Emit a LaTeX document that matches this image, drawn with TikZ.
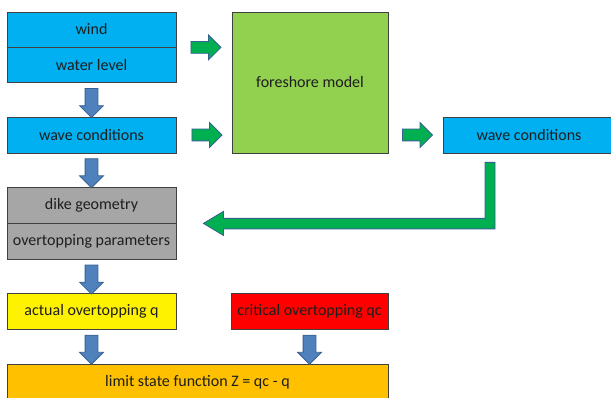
\documentclass[tikz,border=0pt]{standalone}
\usepackage{fontspec}
\setmainfont{Carlito}
\usetikzlibrary{positioning,calc,shapes.arrows}
\definecolor{boxblue}{RGB}{0,176,240}
\definecolor{boxgreen}{RGB}{146,208,80}
\definecolor{boxgray}{RGB}{166,166,166}
\definecolor{boxorange}{RGB}{255,192,0}
\definecolor{arrowblue}{RGB}{79,129,189}
\definecolor{arrowgreen}{RGB}{0,176,80}
\definecolor{arrowline}{RGB}{55,96,146}
\definecolor{boxline}{RGB}{64,64,64}
\definecolor{textcol}{RGB}{30,30,30}
\begin{document}
\begin{tikzpicture}
      [
        x = 1pt, y = -1pt,
        box/.style = {draw=boxline, line width=0.8pt, text=textcol, inner sep=0pt,
            minimum height=36pt, font=\fontsize{16}{19}\selectfont},
        bluearrow/.style = {single arrow, draw=arrowline, fill=arrowblue, line width=0.8pt,
            single arrow head extend=5.5pt, minimum height=29pt,
            inner xsep=0pt, inner ysep=6pt, rotate=-90},
        greenarrow/.style = {single arrow, draw=arrowline, fill=arrowgreen, line width=0.8pt,
            single arrow head extend=6.5pt, minimum height=30pt,
            inner xsep=0pt, inner ysep=5.5pt},
      ]

      \useasboundingbox (0,0) rectangle (611,398);

      \node[box, fill=boxblue, minimum width=169pt, minimum height=35pt] (wind) at (91.5,29.5) {wind};
      \node[box, fill=boxblue, minimum width=169pt, minimum height=35pt, below=0pt of wind] (level) {water level};
      \node[box, fill=boxblue, minimum width=169pt] (wavein) at (91.5,135) {wave conditions};
      \node[box, fill=boxgreen, minimum width=156pt, minimum height=141pt] (foreshore) at (310,82.5) {foreshore model};
      \node[box, fill=boxblue, minimum width=172pt] (waveout) at (529,135) {wave conditions};
      \node[box, fill=boxgray, minimum width=169pt] (dike) at (91.5,205) {dike geometry};
      \node[box, fill=boxgray, minimum width=169pt, below=0pt of dike] (params) {overtopping parameters};
      \node[box, fill=yellow, minimum width=169pt] (actual) at (91.5,311) {actual overtopping q};
      \node[box, fill=red, minimum width=157pt] (critical) at (309.5,311) {critical overtopping qc};
      \node[box, fill=boxorange, minimum width=381pt] (limit) at (197.5,382) {limit state function Z = qc - q};

      \node[bluearrow] (a1) at ($(level.south)!0.5!(wavein.north)$) {};
      \node[bluearrow] (a2) at ($(wavein.south)!0.5!(dike.north)$) {};
      \node[bluearrow] (a3) at ($(params.south)!0.5!(actual.north)$) {};
      \node[bluearrow] (a4) at ($(actual.south)!0.5!(actual.south |- limit.north)$) {};
      \node[bluearrow] (a5) at ($(critical.south)!0.5!(critical.south |- limit.north)$) {};

      \node[greenarrow] (g1) at ($(wind.south east)!0.5!(wind.south east -| foreshore.west)+(-1,0)$) {};
      \node[greenarrow] (g2) at ($(wavein.east)!0.5!(wavein.east -| foreshore.west)$) {};
      \node[greenarrow] (g3) at ($(foreshore.east |- waveout.west)!0.5!(waveout.west)+(-1,0)$) {};

      \coordinate (lstart) at ($(waveout.south)+(-39,9)$);
      \coordinate (ltip) at ($(dike.south east)+(27,0)$);
      \draw[draw=arrowline, fill=arrowgreen, line width=0.8pt, line join=miter]
        ($(lstart)+(-5,0)$) -- ($(lstart)+(5,0)$) -- ($(lstart |- ltip)+(5,5.5)$)
        -- ($(ltip)+(20,5.5)$) -- ($(ltip)+(20,12)$) -- (ltip) -- ($(ltip)+(20,-12)$)
        -- ($(ltip)+(20,-5)$) -- ($(lstart |- ltip)+(-5,-5)$) -- cycle;

    \end{tikzpicture}
\end{document}
